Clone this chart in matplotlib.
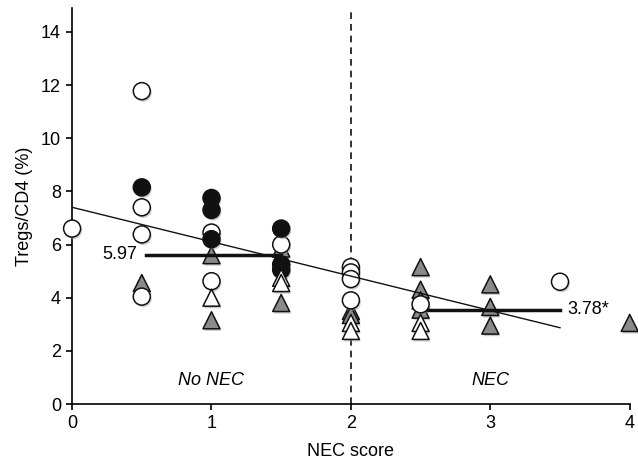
import matplotlib
matplotlib.use('Agg')
import matplotlib.pyplot as plt
import matplotlib.patheffects as pe

plt.rcParams['font.family'] = ['Liberation Sans', 'DejaVu Sans']

# data
open_circ_x = [0, 0.5, 0.5, 0.5, 0.5, 1, 1, 1.5, 2, 2, 2, 2, 2.5, 3.5]
open_circ_y = [6.6, 11.77, 7.4, 6.38, 4.04, 6.45, 4.62, 6.0, 5.15, 4.95, 4.7, 3.9, 3.75, 4.6]

black_circ_x = [0.5, 1, 1, 1, 1.5, 1.5, 1.5]
black_circ_y = [8.15, 7.75, 7.3, 6.2, 6.6, 5.25, 5.05]

gray_tri_x = [0.5, 1, 1, 1.5, 1.5, 2, 2, 2.5, 2.5, 2.5, 2.5, 3, 3, 3, 4]
gray_tri_y = [4.55, 5.6, 3.15, 5.85, 3.8, 3.5, 3.35, 5.15, 4.3, 3.9, 3.55, 4.5, 3.65, 2.95, 3.05]

open_tri_x = [1, 1.5, 1.5, 2, 2, 2.5, 2.5]
open_tri_y = [4.0, 4.75, 4.55, 3.05, 2.75, 3.05, 2.75]

mean_x = [[0.53, 1.5], [2.55, 3.5]]
mean_y = [5.62, 3.55]
mean_labels = ['5.97', '3.78*']

fit_x = [0, 3.5]
fit_y = [7.4, 2.87]

fs = 13

fig = plt.figure(figsize=(6.38, 4.66), dpi=100)
ax = fig.add_axes([0.113, 0.133, 0.874, 0.85])

shadow = [pe.SimplePatchShadow(offset=(1, -1.5), shadow_rgbFace='#999999', alpha=0.5), pe.Normal()]
ms = 150
ax.scatter(gray_tri_x, gray_tri_y, s=ms, marker='^', facecolor='#8a8a8a', edgecolor='#111111',
           linewidth=1.1, zorder=3, clip_on=False, path_effects=shadow)
ax.scatter(open_circ_x, open_circ_y, s=ms, marker='o', facecolor='white', edgecolor='#111111',
           linewidth=1.1, zorder=4, clip_on=False, path_effects=shadow)
ax.scatter(black_circ_x, black_circ_y, s=ms, marker='o', facecolor='#111111', edgecolor='#111111',
           linewidth=1.1, zorder=5, clip_on=False, path_effects=shadow)
ax.scatter(open_tri_x, open_tri_y, s=ms, marker='^', facecolor='white', edgecolor='#111111',
           linewidth=1.1, zorder=6, clip_on=False, path_effects=shadow)

ax.plot(fit_x, fit_y, color='#111111', linewidth=1, zorder=7)
for (xs, y, lab) in zip(mean_x, mean_y, mean_labels):
    ax.plot(xs, [y, y], color='#111111', linewidth=2.5, zorder=8)
ax.text(0.47, mean_y[0], mean_labels[0], ha='right', va='center', fontsize=fs)
ax.text(3.55, mean_y[1], mean_labels[1], ha='left', va='center', fontsize=fs)

ax.axvline(2, color='#111111', linestyle=(0, (4, 3)), linewidth=1.2, zorder=1)
ax.text(1, 0.9, 'No NEC', ha='center', va='center', fontsize=fs, style='italic')
ax.text(3, 0.9, 'NEC', ha='center', va='center', fontsize=fs, style='italic')

ax.set_xlim(0, 4)
ax.set_ylim(0, 14.9)
ax.set_xticks([0, 1, 2, 3, 4])
ax.set_yticks(range(0, 15, 2))
ax.spines['top'].set_visible(False)
ax.spines['right'].set_visible(False)
ax.spines['left'].set_linewidth(1.2)
ax.spines['bottom'].set_linewidth(1.2)
ax.tick_params(direction='out', length=4, width=1.2, labelsize=fs, pad=4)
ax.set_xlabel('NEC score', fontsize=fs, labelpad=8)
ax.set_ylabel('Tregs/CD4 (%)', fontsize=fs, labelpad=6)

plt.savefig('out.png', dpi=100)
